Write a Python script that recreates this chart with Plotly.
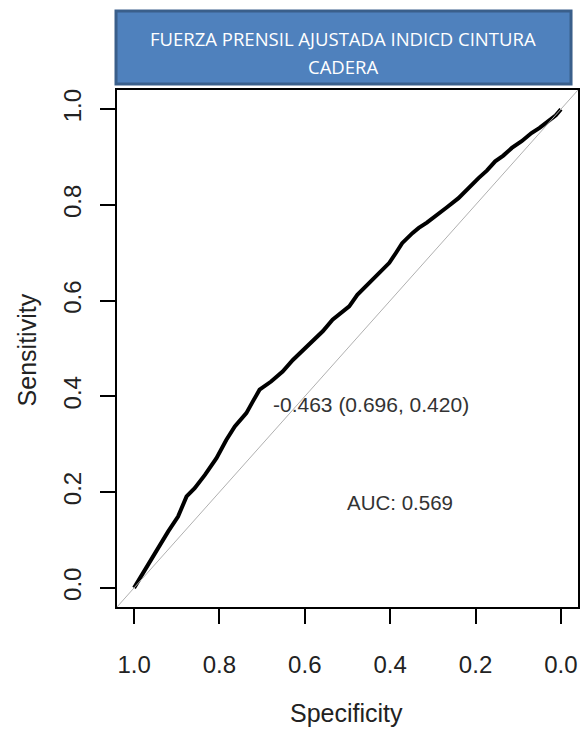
import plotly.graph_objects as go

# ROC curve values
specificity = [1.000, 0.998, 0.978, 0.967, 0.943, 0.920, 0.897, 0.877, 0.858, 0.834,
               0.807, 0.784, 0.764, 0.737, 0.722, 0.706, 0.679, 0.652, 0.628, 0.605,
               0.582, 0.558, 0.535, 0.512, 0.496, 0.477, 0.457, 0.438, 0.418, 0.402,
               0.387, 0.372, 0.348, 0.333, 0.314, 0.294, 0.267, 0.240, 0.216, 0.193,
               0.173, 0.154, 0.135, 0.115, 0.092, 0.069, 0.050, 0.030, 0.012, 0.000]
sensitivity = [0.000, 0.003, 0.034, 0.051, 0.083, 0.118, 0.149, 0.191, 0.208, 0.236,
               0.271, 0.309, 0.337, 0.365, 0.389, 0.414, 0.431, 0.452, 0.476, 0.496,
               0.518, 0.536, 0.560, 0.577, 0.588, 0.612, 0.630, 0.646, 0.664, 0.679,
               0.699, 0.720, 0.741, 0.752, 0.763, 0.776, 0.795, 0.814, 0.836, 0.856,
               0.872, 0.891, 0.903, 0.919, 0.933, 0.950, 0.961, 0.974, 0.987, 1.000]
tick_vals = [0.0, 0.2, 0.4, 0.6, 0.8, 1.0]
tick_text = ["0.0", "0.2", "0.4", "0.6", "0.8", "1.0"]
title_lines = ["FUERZA PRENSIL AJUSTADA INDICD CINTURA", "CADERA"]
thres_label = "-0.463 (0.696, 0.420)"
thres_point = (0.696, 0.420)
auc_label = "AUC: 0.569"

W, H = 585, 733
ML, MR, MT, MB = 117, 5, 90, 126
PW, PH = W - ML - MR, H - MT - MB


def px(x):
    return (x - ML) / PW


def py(y):
    return (H - MB - y) / PH


fig = go.Figure()
fig.add_shape(type="line", xref="paper", yref="paper", x0=0, y0=0, x1=1, y1=1,
              line=dict(color="#b0b0b0", width=1))
fig.add_trace(go.Scatter(x=specificity, y=sensitivity, mode="lines",
                         line=dict(color="black", width=4), showlegend=False,
                         hoverinfo="skip"))

axis_common = dict(showline=True, linecolor="black", linewidth=1.5, mirror=True,
                   ticks="outside", ticklen=15, tickwidth=1.5, tickcolor="black",
                   showgrid=False, zeroline=False,
                   tickfont=dict(family="Liberation Sans, Arial", size=24, color="#222"))

fig.update_xaxes(range=[1.04, -0.04], tickvals=tick_vals, ticktext=tick_text,
                 ticklabelstandoff=20, **axis_common)
fig.update_yaxes(range=[-0.04, 1.04], tickvals=tick_vals, ticktext=tick_text,
                 tickangle=-90, ticklabelstandoff=10, **axis_common)

# title box
fig.add_shape(type="rect", xref="paper", yref="paper",
              x0=px(116), x1=px(573), y0=py(84), y1=py(11),
              fillcolor="#4f81bd", line=dict(color="#3a5f8b", width=3), layer="above")
fig.add_annotation(xref="paper", yref="paper", x=px(344), y=py(39), text=title_lines[0],
                   showarrow=False, xanchor="center", yanchor="middle",
                   font=dict(family="Open Sans", size=18.5, color="white"))
fig.add_annotation(xref="paper", yref="paper", x=px(344), y=py(66), text=title_lines[1],
                   showarrow=False, xanchor="center", yanchor="middle",
                   font=dict(family="Open Sans", size=18.5, color="white"))

# axis titles
fig.add_annotation(xref="paper", yref="paper", x=px(347), y=py(713), text="Specificity",
                   showarrow=False, xanchor="center", yanchor="middle",
                   font=dict(family="Liberation Sans, Arial", size=25, color="#222"))
fig.add_annotation(xref="paper", yref="paper", x=px(27), y=py(350), text="Sensitivity",
                   showarrow=False, xanchor="center", yanchor="middle", textangle=-90,
                   font=dict(family="Liberation Sans, Arial", size=25, color="#222"))

# threshold and AUC labels
fig.add_annotation(x=thres_point[0], y=thres_point[1], text=thres_label, showarrow=False,
                   xanchor="left", yanchor="middle", xshift=7, yshift=-18,
                   font=dict(family="Liberation Sans, Arial", size=21, color="#333"))
fig.add_annotation(x=0.377, y=0.178, text=auc_label, showarrow=False,
                   xanchor="center", yanchor="middle",
                   font=dict(family="Liberation Sans, Arial", size=20.5, color="#333"))

fig.update_layout(width=W, height=H, margin=dict(l=ML, r=MR, t=MT, b=MB, pad=0),
                  paper_bgcolor="white", plot_bgcolor="white")

fig.write_html("out.html")
